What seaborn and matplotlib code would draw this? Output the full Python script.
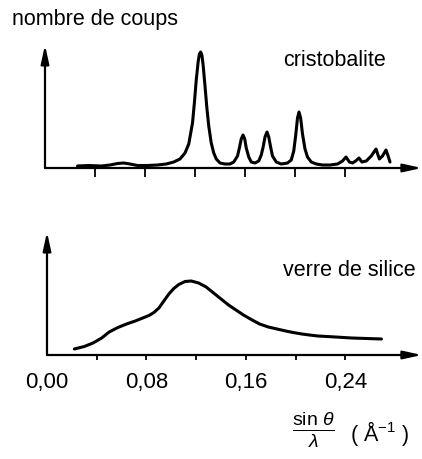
import numpy as np
import pandas as pd
import seaborn as sns
import matplotlib.pyplot as plt

# cristobalite: diffraction counts (arbitrary units)
crist_x = [0.026, 0.035, 0.045, 0.052, 0.058, 0.063, 0.068, 0.074, 0.082, 0.090,
           0.097, 0.103, 0.108, 0.112, 0.115, 0.118, 0.1195, 0.121, 0.1225, 0.1235,
           0.1245, 0.1255, 0.1265, 0.128, 0.1295, 0.131, 0.133, 0.135, 0.137, 0.140,
           0.144, 0.148, 0.151, 0.154, 0.1555, 0.157, 0.1584, 0.1598, 0.161, 0.163,
           0.165, 0.168, 0.171, 0.173, 0.1745, 0.176, 0.1776, 0.179, 0.1805, 0.182,
           0.185, 0.189, 0.194, 0.197, 0.199, 0.2005, 0.202, 0.2032, 0.2045, 0.206,
           0.208, 0.210, 0.213, 0.217, 0.222, 0.228, 0.234, 0.238, 0.2408, 0.2435,
           0.246, 0.2485, 0.2512, 0.2535, 0.257, 0.261, 0.2648, 0.2675, 0.270, 0.2728,
           0.2745, 0.276]
crist_y = [2, 2.5, 2, 3, 4.5, 5, 4, 2.5, 2.5, 3,
           4, 6, 9, 15, 24, 45, 65, 88, 106, 114,
           116, 113, 103, 82, 60, 42, 25, 15, 9, 5,
           4, 4, 6, 12, 20, 29, 33, 29, 20, 11,
           6, 5, 7, 13, 21, 31, 36, 31, 21, 12,
           6, 4, 5, 8, 17, 32, 50, 56, 50, 34,
           19, 11, 6, 4, 3, 3, 4, 7, 11, 6,
           5, 7, 10, 6, 7, 12, 19, 9, 12, 18,
           12, 6]

# verre de silice: broad amorphous halo
glass_x = [0.022, 0.030, 0.037, 0.044, 0.050, 0.057, 0.064, 0.071, 0.077, 0.082,
           0.086, 0.090, 0.094, 0.098, 0.102, 0.106, 0.111, 0.116, 0.122, 0.128,
           0.133, 0.138, 0.142, 0.146, 0.152, 0.158, 0.165, 0.171, 0.178, 0.185,
           0.192, 0.198, 0.205, 0.211, 0.218, 0.225, 0.232, 0.245, 0.257, 0.269]
glass_y = [6, 8.5, 12, 17, 23, 27.5, 31, 34, 37, 39.5,
           42.5, 47, 54, 61, 66.5, 70.5, 73.5, 74, 72, 68,
           63, 58, 54, 50, 45, 40, 35, 31, 28, 26,
           24, 22.5, 21, 20, 19, 18.5, 18, 17, 16.5, 16]

tick_pos = [0.04, 0.08, 0.12, 0.16, 0.20, 0.24]
label_pos = [0.00, 0.08, 0.16, 0.24]
label_txt = ['0,00', '0,08', '0,16', '0,24']

sns.set_style('white')
plt.rcParams['font.family'] = ['Liberation Sans', 'DejaVu Sans']
plt.rcParams['text.color'] = 'black'
plt.rcParams['xtick.color'] = 'black'
plt.rcParams['mathtext.fontset'] = 'custom'
plt.rcParams['mathtext.rm'] = 'Liberation Sans'
plt.rcParams['mathtext.it'] = 'Liberation Sans:italic'

W, H = 422, 459
fig = plt.figure(figsize=(W / 100, H / 100), dpi=100)


def box(left, top, right, bottom):
    # pixel box (from top-left) -> figure fraction
    return [left / W, 1 - bottom / H, (right - left) / W, (bottom - top) / H]


ax1 = fig.add_axes(box(45, 45, 420, 168))
ax2 = fig.add_axes(box(47, 232, 420, 355))

for ax, x, y in [(ax1, crist_x, crist_y), (ax2, glass_x, glass_y)]:
    df = pd.DataFrame({'x': x, 'y': y})
    sns.lineplot(data=df, x='x', y='y', ax=ax, color='black', linewidth=2.2)
    ax.lines[0].set_solid_joinstyle('round')
    ax.lines[0].set_solid_capstyle('round')
    ax.set_xlim(0, 0.30)
    ax.set_ylim(0, 123)
    ax.set_xlabel('')
    ax.set_ylabel('')
    ax.set_yticks([])
    for s in ax.spines.values():
        s.set_visible(False)
    arrow = dict(arrowstyle='-|>,head_length=1.0,head_width=0.22', color='black',
                 lw=1.6, shrinkA=0, shrinkB=0, mutation_scale=11)
    ax.annotate('', xy=(0, 1), xytext=(0, 0), xycoords='axes fraction',
                arrowprops=arrow, annotation_clip=False)
    ax.annotate('', xy=(1.005, 0), xytext=(0, 0), xycoords='axes fraction',
                arrowprops=arrow, annotation_clip=False)

ax1.set_xticks(tick_pos)
ax1.set_xticklabels([])
ax1.tick_params(axis='x', bottom=True, direction='out', length=6.5, width=1.3, color='black')

ax2.set_xticks(tick_pos, minor=True)
ax2.set_xticks(label_pos)
ax2.set_xticklabels(label_txt, fontsize=16)
ax2.tick_params(axis='x', which='both', bottom=True, direction='out', length=3.5,
                width=1.3, color='black', labelcolor='black', pad=9)
ax2.get_xticklines()[0].set_visible(False)

fig.text(12 / W, 1 - 20 / H, 'nombre de coups', fontsize=15.5, va='center', ha='left')
fig.text(283 / W, 1 - 60 / H, 'cristobalite', fontsize=15.5, va='center', ha='left')
fig.text(283 / W, 1 - 270 / H, 'verre de silice', fontsize=15.5, va='center', ha='left')
fig.text(313 / W, 1 - 430 / H, r'$\frac{\mathrm{sin}\ \theta}{\lambda}$', fontsize=20,
         va='center', ha='center')
fig.text(350 / W, 1 - 433 / H, r'( Å$^{\mathrm{-1}}$ )', fontsize=15.5, va='center', ha='left')

fig.savefig('out.png', dpi=100)
